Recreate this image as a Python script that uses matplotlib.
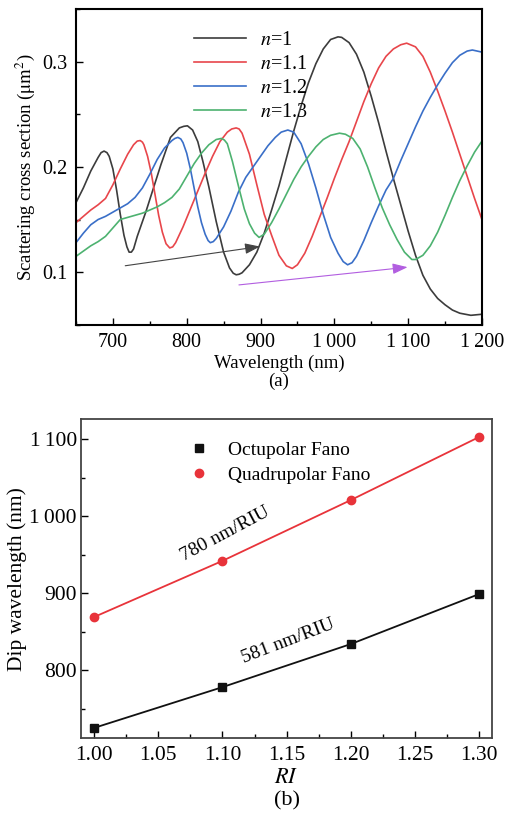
import matplotlib
matplotlib.use("Agg")
import matplotlib.pyplot as plt
from matplotlib.ticker import MultipleLocator, FixedLocator, FormatStrFormatter
from matplotlib.lines import Line2D

plt.rcParams['font.family'] = ['Liberation Serif', 'DejaVu Serif']
plt.rcParams['mathtext.fontset'] = 'stix'
plt.rcParams['font.size'] = 13

# ---- (a) scattering spectra ----
wl_n10 = [650, 660, 670, 680, 684, 688, 692, 695, 700, 705, 710, 715, 719, 722, 725, 728, 733, 745, 755,
          765, 778, 790, 796, 801, 808, 815, 822, 830, 840, 850, 858, 863, 867, 871, 875, 885, 895, 905,
          915, 925, 935, 945, 955, 965, 975, 985, 995, 1005, 1010, 1020, 1030, 1040, 1050, 1060, 1070,
          1080, 1090, 1100, 1110, 1120, 1130, 1140, 1150, 1160, 1170, 1185, 1200]
cs_n10 = [0.166, 0.180, 0.196, 0.209, 0.2135, 0.215, 0.2135, 0.210, 0.198, 0.178, 0.155, 0.135, 0.124,
          0.119, 0.119, 0.122, 0.134, 0.158, 0.180, 0.202, 0.228, 0.237, 0.2385, 0.239, 0.235, 0.224,
          0.205, 0.181, 0.148, 0.119, 0.104, 0.099, 0.0975, 0.098, 0.0994, 0.107, 0.119, 0.137, 0.159,
          0.182, 0.208, 0.234, 0.258, 0.280, 0.298, 0.312, 0.321, 0.3235, 0.323, 0.318, 0.307, 0.290,
          0.267, 0.242, 0.215, 0.189, 0.164, 0.139, 0.116, 0.097, 0.084, 0.075, 0.069, 0.064, 0.061,
          0.059, 0.060]

wl_n11 = [650, 660, 670, 680, 690, 700, 710, 720, 728, 733, 737, 740, 742, 747, 752, 757, 762, 767, 772,
          777, 781, 785, 795, 805, 815, 825, 835, 845, 855, 861, 867, 871, 875, 885, 895, 905, 915, 925,
          935, 943, 950, 960, 970, 980, 990, 1000, 1010, 1020, 1030, 1040, 1050, 1060, 1070, 1080, 1090,
          1098, 1110, 1120, 1130, 1140, 1150, 1160, 1170, 1180, 1190, 1200]
cs_n11 = [0.147, 0.153, 0.159, 0.164, 0.170, 0.183, 0.198, 0.212, 0.221, 0.2245, 0.225, 0.2235, 0.221,
          0.210, 0.194, 0.174, 0.154, 0.138, 0.127, 0.123, 0.124, 0.128, 0.143, 0.160, 0.177, 0.194,
          0.210, 0.224, 0.233, 0.236, 0.237, 0.236, 0.232, 0.212, 0.183, 0.155, 0.135, 0.116, 0.106,
          0.1035, 0.107, 0.118, 0.134, 0.152, 0.170, 0.189, 0.207, 0.224, 0.243, 0.262, 0.279, 0.294,
          0.305, 0.312, 0.316, 0.3175, 0.314, 0.305, 0.290, 0.272, 0.253, 0.233, 0.212, 0.191, 0.170,
          0.150]

wl_n12 = [650, 660, 670, 680, 690, 700, 710, 720, 730, 740, 750, 760, 770, 780, 784, 788, 792, 795, 800,
          805, 810, 815, 820, 825, 829, 832, 836, 840, 850, 860, 870, 880, 890, 900, 910, 920, 928, 937,
          945, 955, 965, 975, 985, 995, 1005, 1012, 1018, 1024, 1030, 1040, 1050, 1060, 1070, 1080, 1090,
          1100, 1110, 1120, 1130, 1140, 1150, 1160, 1170, 1180, 1187, 1200]
cs_n12 = [0.128, 0.137, 0.145, 0.150, 0.153, 0.157, 0.161, 0.165, 0.171, 0.180, 0.193, 0.207, 0.218,
          0.225, 0.227, 0.228, 0.2265, 0.223, 0.213, 0.198, 0.180, 0.162, 0.147, 0.136, 0.130, 0.128,
          0.129, 0.132, 0.143, 0.158, 0.176, 0.190, 0.200, 0.210, 0.220, 0.228, 0.233, 0.235, 0.233,
          0.222, 0.203, 0.180, 0.155, 0.133, 0.118, 0.110, 0.107, 0.109, 0.115, 0.130, 0.147, 0.163,
          0.178, 0.189, 0.206, 0.222, 0.238, 0.253, 0.266, 0.278, 0.289, 0.299, 0.306, 0.310, 0.311,
          0.309]

wl_n13 = [650, 660, 670, 680, 690, 700, 710, 720, 730, 740, 750, 760, 770, 780, 790, 800, 810, 820, 830,
          840, 847, 851, 855, 862, 870, 878, 885, 892, 898, 905, 915, 925, 935, 945, 955, 965, 975, 985,
          995, 1007, 1015, 1025, 1035, 1045, 1055, 1065, 1075, 1085, 1095, 1105, 1110, 1120, 1130, 1140,
          1150, 1160, 1170, 1180, 1190, 1200]
cs_n13 = [0.115, 0.120, 0.125, 0.129, 0.134, 0.142, 0.150, 0.152, 0.154, 0.156, 0.159, 0.162, 0.166,
          0.171, 0.179, 0.191, 0.203, 0.213, 0.221, 0.226, 0.227, 0.2255, 0.222, 0.205, 0.182, 0.160,
          0.146, 0.137, 0.133, 0.136, 0.147, 0.160, 0.174, 0.188, 0.200, 0.210, 0.219, 0.226, 0.230,
          0.232, 0.231, 0.227, 0.217, 0.200, 0.180, 0.161, 0.145, 0.131, 0.119, 0.112, 0.112, 0.116,
          0.125, 0.138, 0.154, 0.171, 0.187, 0.201, 0.214, 0.2245]

# ---- (b) dip wavelength vs refractive index ----
ri = [1.0, 1.1, 1.2, 1.3]
dip_oct = [725, 778, 834, 899]
dip_quad = [869, 942, 1021, 1103]

fig = plt.figure(figsize=(5.1, 8.14), dpi=100)

ax1 = fig.add_axes([0.149, 0.601, 0.796, 0.388])
ax1.plot(wl_n10, cs_n10, color='#3c3c3c', lw=1.2, label=r'$n$=1')
ax1.plot(wl_n11, cs_n11, color='#e8464b', lw=1.2, label=r'$n$=1.1')
ax1.plot(wl_n12, cs_n12, color='#3a6fc8', lw=1.2, label=r'$n$=1.2')
ax1.plot(wl_n13, cs_n13, color='#4db270', lw=1.2, label=r'$n$=1.3')

ax1.annotate('', xy=(903, 0.1247), xytext=(713, 0.1057),
             arrowprops=dict(arrowstyle='-|>,head_length=0.7,head_width=0.25', color='#444444', lw=0.8))
ax1.annotate('', xy=(1103, 0.105), xytext=(867, 0.0876),
             arrowprops=dict(arrowstyle='-|>,head_length=0.7,head_width=0.25', color='#b25ee0', lw=0.8))

ax1.set_xlim(650, 1200)
ax1.set_ylim(0.05, 0.35)
ax1.xaxis.set_major_locator(FixedLocator([700, 800, 900, 1000, 1100, 1200]))
ax1.set_xticklabels(['700', '800', '900', '1\u2009000', '1\u2009100', '1\u2009200'], fontsize=14.5)
ax1.xaxis.set_minor_locator(MultipleLocator(50))
ax1.yaxis.set_major_locator(FixedLocator([0.1, 0.2, 0.3]))
ax1.set_yticklabels(['0.1', '0.2', '0.3'], fontsize=14.5)
ax1.yaxis.set_minor_locator(MultipleLocator(0.05))
ax1.tick_params(which='both', direction='in', top=False, right=False)
ax1.tick_params(which='major', length=5, width=1, pad=6)
ax1.tick_params(which='minor', length=3, width=1)
for s in ax1.spines.values():
    s.set_linewidth(1.5)
ax1.set_xlabel('Wavelength (nm)\n(a)', labelpad=2, linespacing=1.05, fontsize=13.5)
ax1.set_ylabel(r'Scattering cross section ($\mathrm{\mu m^2}$)', labelpad=4, fontsize=13.5)
ax1.legend(loc='upper left', bbox_to_anchor=(0.26, 0.97), frameon=False, handlelength=2.6,
           handletextpad=0.7, labelspacing=0.25, borderaxespad=0.2, fontsize=14.5)

ax2 = fig.add_axes([0.159, 0.0934, 0.806, 0.3916])
ax2.plot(ri, dip_quad, color='#e8333a', lw=1.3, marker='o', ms=6, zorder=3)
ax2.plot(ri, dip_oct, color='#111111', lw=1.3, marker='s', ms=6, zorder=3)
ax2.text(1.102, 977, '780 nm/RIU', rotation=28, ha='center', va='center', fontsize=14,
         bbox=dict(facecolor='white', edgecolor='none', pad=1))
ax2.text(1.151, 838, '581 nm/RIU', rotation=21, ha='center', va='center', fontsize=14,
         bbox=dict(facecolor='white', edgecolor='none', pad=1))

ax2.set_xlim(0.99, 1.31)
ax2.set_ylim(712, 1126)
ax2.xaxis.set_major_locator(MultipleLocator(0.05))
ax2.xaxis.set_minor_locator(MultipleLocator(0.025))
ax2.xaxis.set_major_formatter(FormatStrFormatter('%.2f'))
ax2.yaxis.set_major_locator(FixedLocator([800, 900, 1000, 1100]))
ax2.set_yticklabels(['800', '900', '1\u2009000', '1\u2009100'])
ax2.yaxis.set_minor_locator(MultipleLocator(50))
ax2.tick_params(which='both', direction='in', top=False, right=False, labelsize=15.5)
ax2.tick_params(axis='x', which='major', length=5, width=1, pad=6)
ax2.tick_params(axis='y', which='major', length=5, width=1, pad=3)
ax2.tick_params(which='minor', length=3, width=1)
for s in ax2.spines.values():
    s.set_linewidth(1.3)
    s.set_color('#444444')
ax2.set_xlabel('$RI$\n(b)', labelpad=3, linespacing=1.2, fontsize=16)
ax2.set_ylabel('Dip wavelength (nm)', labelpad=2, fontsize=15.5)
handles = [Line2D([], [], ls='none', marker='s', ms=6, color='#111111'),
           Line2D([], [], ls='none', marker='o', ms=6, color='#e8333a')]
ax2.legend(handles, ['Octupolar Fano', 'Quadrupolar Fano'], loc='upper left',
           bbox_to_anchor=(0.22, 0.985), frameon=False, handlelength=1.0, handletextpad=1.0,
           labelspacing=0.35, fontsize=14)

fig.savefig('out.png', dpi=100)
